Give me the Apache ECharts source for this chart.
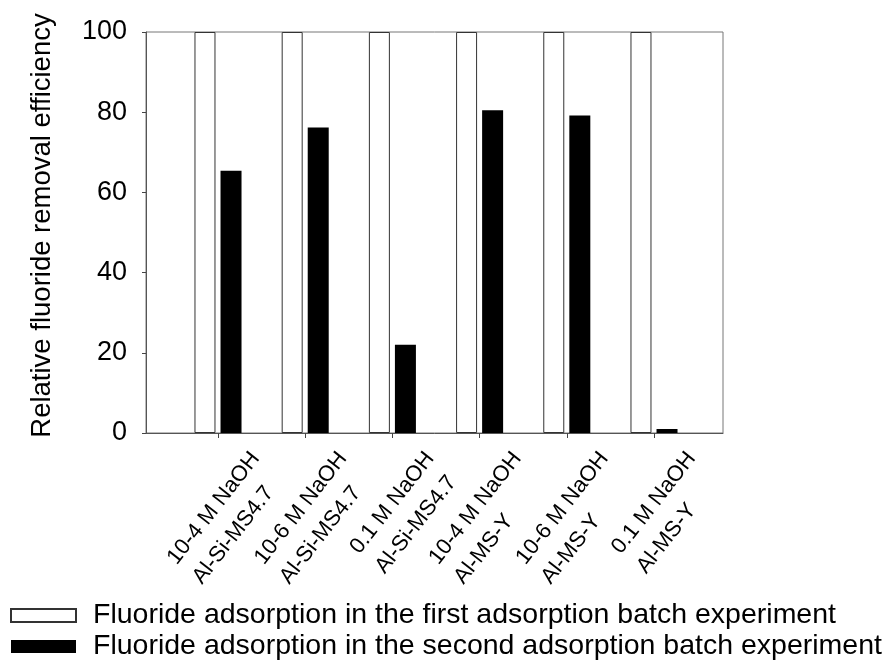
<!DOCTYPE html>
<html>
<head>
<meta charset="utf-8">
<script src="https://cdn.jsdelivr.net/npm/echarts@6/dist/echarts.min.js"></script>
<style>
  html, body { margin: 0; padding: 0; background: #fff; }
  #chart { width: 890px; height: 663px; }
</style>
</head>
<body>
<div id="chart"></div>
<script>
// Treatment / adsorbent combinations on the x axis
const categories = [
  '10-4 M NaOH\nAl-Si-MS4.7',
  '10-6 M NaOH\nAl-Si-MS4.7',
  '0.1 M NaOH\nAl-Si-MS4.7',
  '10-4 M NaOH\nAl-MS-Y',
  '10-6 M NaOH\nAl-MS-Y',
  '0.1 M NaOH\nAl-MS-Y'
];

// Relative fluoride removal efficiency (%)
const firstBatch = [100, 100, 100, 100, 100, 100];
const secondBatch = [65.4, 76.2, 22, 80.5, 79.2, 1];

const seriesNames = [
  'Fluoride adsorption in the first adsorption batch experiment',
  'Fluoride adsorption in the second adsorption batch experiment'
];

const yTicks = { min: 0, max: 100, step: 20 };
const yTitle = 'Relative fluoride removal efficiency';

const FONT = '"Liberation Sans", Arial, Helvetica, sans-serif';

const chart = echarts.init(document.getElementById('chart'), null, { renderer: 'canvas' });

chart.setOption({
  animation: false,
  backgroundColor: '#fff',
  textStyle: { fontFamily: FONT, color: '#000' },
  grid: [
    // outer plot frame
    { left: 146, top: 32, width: 577, height: 401, show: true, borderColor: '#777', borderWidth: 1 },
    // band area holding the bar groups
    { left: 174.4, top: 32, width: 523.2, height: 401 }
  ],
  legend: {
    orient: 'vertical',
    left: 10,
    top: 600.5,
    height: 70,
    padding: 0,
    icon: 'rect',
    itemWidth: 65,
    itemHeight: 13,
    itemGap: 1,
    textStyle: { fontSize: 28.5, lineHeight: 30, color: '#000', fontFamily: FONT, padding: [0, 0, 0, 12] },
    data: seriesNames
  },
  xAxis: [
    {
      gridIndex: 0, type: 'value', min: 0, max: 1,
      axisLine: { show: true, lineStyle: { color: '#555', width: 1 } },
      axisTick: { show: false }, axisLabel: { show: false }, splitLine: { show: false }
    },
    {
      gridIndex: 1, type: 'category', data: categories,
      axisLine: { show: false },
      axisTick: { show: true, alignWithLabel: true, length: 5, lineStyle: { color: '#444' } },
      splitLine: { show: false },
      axisLabel: {
        interval: 0,
        rotate: 52,
        margin: 0,
        align: 'right',
        verticalAlign: 'top',
        padding: [27, -6, 0, 0],
        color: '#000',
        fontSize: 22,
        lineHeight: 32,
        fontFamily: FONT,
        // each line starts at the same point, as in the printed labels
        formatter: v => v.split('\n').map(s => '{a|' + s + '}').join('\n'),
        rich: { a: { align: 'left', fontSize: 22, lineHeight: 32, fontFamily: FONT, color: '#000' } }
      }
    }
  ],
  yAxis: [
    {
      gridIndex: 0, type: 'value', min: yTicks.min, max: yTicks.max, interval: yTicks.step,
      name: yTitle, nameLocation: 'middle', nameGap: 90,
      nameTextStyle: { fontSize: 27.5, color: '#000', fontFamily: FONT, padding: [0, 0, 0, 14] },
      axisLine: { show: true, lineStyle: { color: '#555', width: 1 } },
      axisTick: { show: true, inside: false, length: 4, lineStyle: { color: '#444' } },
      axisLabel: { fontSize: 27, color: '#000', margin: 19, fontFamily: FONT },
      splitLine: { show: false }
    },
    {
      gridIndex: 1, type: 'value', min: yTicks.min, max: yTicks.max, show: false
    }
  ],
  series: [
    {
      name: seriesNames[0], type: 'bar', xAxisIndex: 1, yAxisIndex: 1,
      data: firstBatch, barWidth: 21, barGap: '24%',
      itemStyle: { color: '#fff', borderColor: '#333', borderWidth: 1 }
    },
    {
      name: seriesNames[1], type: 'bar', xAxisIndex: 1, yAxisIndex: 1,
      data: secondBatch, barWidth: 21, barGap: '24%',
      itemStyle: { color: '#000' }
    }
  ]
});
</script>
</body>
</html>
